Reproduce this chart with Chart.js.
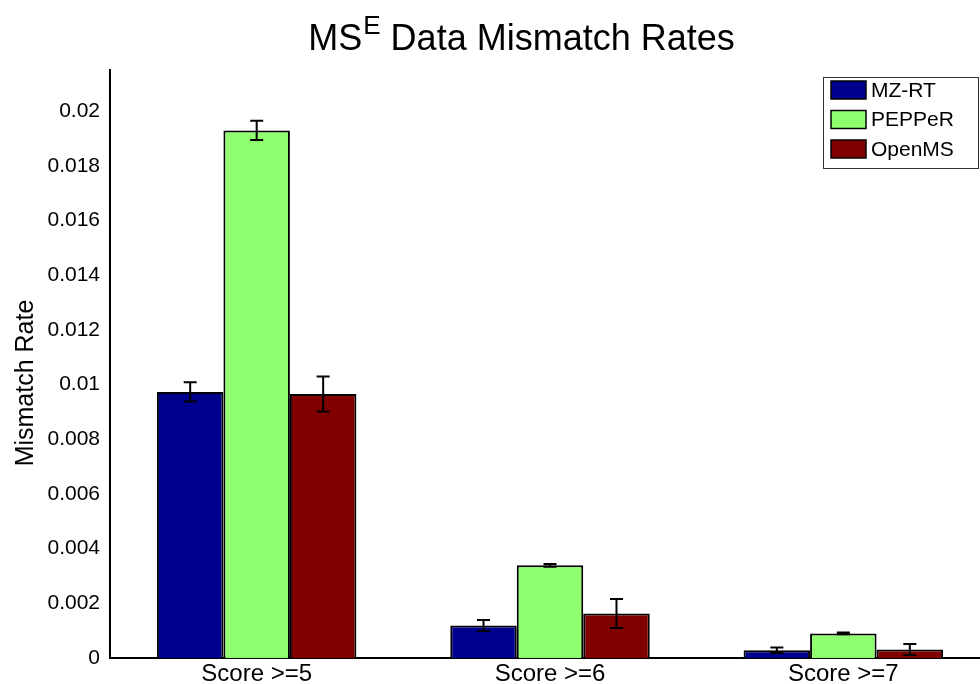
<!DOCTYPE html>
<html>
<head>
<meta charset="utf-8">
<title>MSE Data Mismatch Rates</title>
<script src="https://cdn.jsdelivr.net/npm/chart.js@4.4.1/dist/chart.umd.min.js"></script>
<style>
  html, body { margin: 0; padding: 0; background: #fff; overflow: hidden; }
  #wrap { width: 1000px; height: 684px; }
</style>
</head>
<body>
<div id="wrap"><canvas id="chart" width="1000" height="684"></canvas></div>
<script>
// data
const categories = ['Score >=5', 'Score >=6', 'Score >=7'];
const mzrt = [0.00973, 0.00119, 0.00028];
const mzrtErr = [0.00035, 0.0002, 0.0001];
const pepper = [0.01929, 0.00339, 0.0009];
const pepperErr = [0.00035, 0.00005, 0.00003];
const openms = [0.00965, 0.00163, 0.00031];
const openmsErr = [0.00064, 0.00053, 0.0002];
const yTicks = [0, 0.002, 0.004, 0.006, 0.008, 0.01, 0.012, 0.014, 0.016, 0.018, 0.02];
const yTitle = 'Mismatch Rate';

const FONT = '"Liberation Sans", Arial, Helvetica, sans-serif';

// title with a superscript E, plus the y axis title (sits a bit below centre in the original)
const titlePlugin = {
  id: 'mseTitle',
  afterDraw(chart) {
    const ctx = chart.ctx;
    ctx.save();
    ctx.fillStyle = '#000';
    ctx.textBaseline = 'alphabetic';
    ctx.textAlign = 'left';
    const big = '36px ' + FONT, small = '26px ' + FONT;
    ctx.font = big;
    const w1 = ctx.measureText('MS').width;
    const w3 = ctx.measureText(' Data Mismatch Rates').width;
    ctx.font = small;
    const w2 = ctx.measureText('E').width;
    let x = 521 - (w1 + w2 + w3) / 2;
    const base = 50;
    ctx.font = big;
    ctx.fillText('MS', x, base);
    x += w1;
    ctx.font = small;
    ctx.fillText('E', x + 1, base - 16);
    x += w2 + 1;
    ctx.font = big;
    ctx.fillText(' Data Mismatch Rates', x, base);

    // y axis title
    ctx.translate(26, 383);
    ctx.rotate(-Math.PI / 2);
    ctx.font = '25px ' + FONT;
    ctx.textAlign = 'center';
    ctx.textBaseline = 'middle';
    ctx.fillText(yTitle, 0, 0);
    ctx.restore();
  }
};

// error bars drawn through the y scale
const errorBarPlugin = {
  id: 'errorBars',
  afterDatasetsDraw(chart) {
    const ctx = chart.ctx;
    const yScale = chart.scales.y;
    ctx.save();
    ctx.strokeStyle = '#000';
    ctx.lineWidth = 2;
    chart.data.datasets.forEach((ds, i) => {
      const meta = chart.getDatasetMeta(i);
      meta.data.forEach((bar, j) => {
        const v = ds.data[j], e = ds.errors[j];
        const yTop = yScale.getPixelForValue(v + e);
        const yBot = yScale.getPixelForValue(v - e);
        const x = bar.x, cap = 6.5;
        ctx.beginPath();
        ctx.moveTo(x, yTop); ctx.lineTo(x, yBot);
        ctx.moveTo(x - cap, yTop); ctx.lineTo(x + cap, yTop);
        ctx.moveTo(x - cap, yBot); ctx.lineTo(x + cap, yBot);
        ctx.stroke();
      });
    });
    ctx.restore();
  }
};

// boxed legend in the upper right corner
const legendPlugin = {
  id: 'boxLegend',
  afterDraw(chart) {
    const ctx = chart.ctx;
    ctx.save();
    ctx.fillStyle = '#fff';
    ctx.fillRect(823.5, 77.5, 155, 91);
    ctx.strokeStyle = '#333';
    ctx.lineWidth = 1;
    ctx.strokeRect(823.5, 77.5, 155, 91);
    chart.data.datasets.forEach((ds, i) => {
      const y = 81 + i * 29.5;
      ctx.fillStyle = ds.backgroundColor;
      ctx.fillRect(831, y, 35, 18);
      ctx.strokeStyle = '#000';
      ctx.lineWidth = 1.5;
      ctx.strokeRect(831, y, 35, 18);
      ctx.fillStyle = '#000';
      ctx.font = '21px ' + FONT;
      ctx.textBaseline = 'middle';
      ctx.textAlign = 'left';
      ctx.fillText(ds.label, 871, y + 10);
    });
    ctx.restore();
  }
};

new Chart(document.getElementById('chart'), {
  type: 'bar',
  data: {
    labels: categories,
    datasets: [
      { label: 'MZ-RT', data: mzrt, errors: mzrtErr, backgroundColor: '#00008F' },
      { label: 'PEPPeR', data: pepper, errors: pepperErr, backgroundColor: '#8FFF70' },
      { label: 'OpenMS', data: openms, errors: openmsErr, backgroundColor: '#800000' }
    ].map(d => Object.assign(d, {
      borderColor: '#000',
      borderWidth: 2,
      categoryPercentage: 0.68,
      barPercentage: 1.0
    }))
  },
  options: {
    responsive: false,
    animation: false,
    devicePixelRatio: 1,
    layout: { padding: { top: 70, right: 10, left: 0, bottom: 0 } },
    plugins: {
      legend: { display: false },
      title: { display: false },
      tooltip: { enabled: false }
    },
    scales: {
      x: {
        afterFit: s => { s.height = 26; },
        grid: { display: false, drawTicks: false },
        border: { color: '#000', width: 2 },
        ticks: { color: '#000', font: { size: 24, family: FONT, lineHeight: 1 }, padding: 4, maxRotation: 0 }
      },
      y: {
        min: 0,
        max: 0.0215,
        afterBuildTicks: s => { s.ticks = yTicks.map(v => ({ value: v })); },
        afterFit: s => { s.width = 110; },
        grid: { display: false, drawTicks: false },
        border: { color: '#000', width: 2 },
        ticks: {
          color: '#000',
          font: { size: 21, family: FONT },
          padding: 10,
          callback: v => String(+v.toFixed(4))
        }
      }
    }
  },
  plugins: [errorBarPlugin, titlePlugin, legendPlugin]
});
</script>
</body>
</html>
